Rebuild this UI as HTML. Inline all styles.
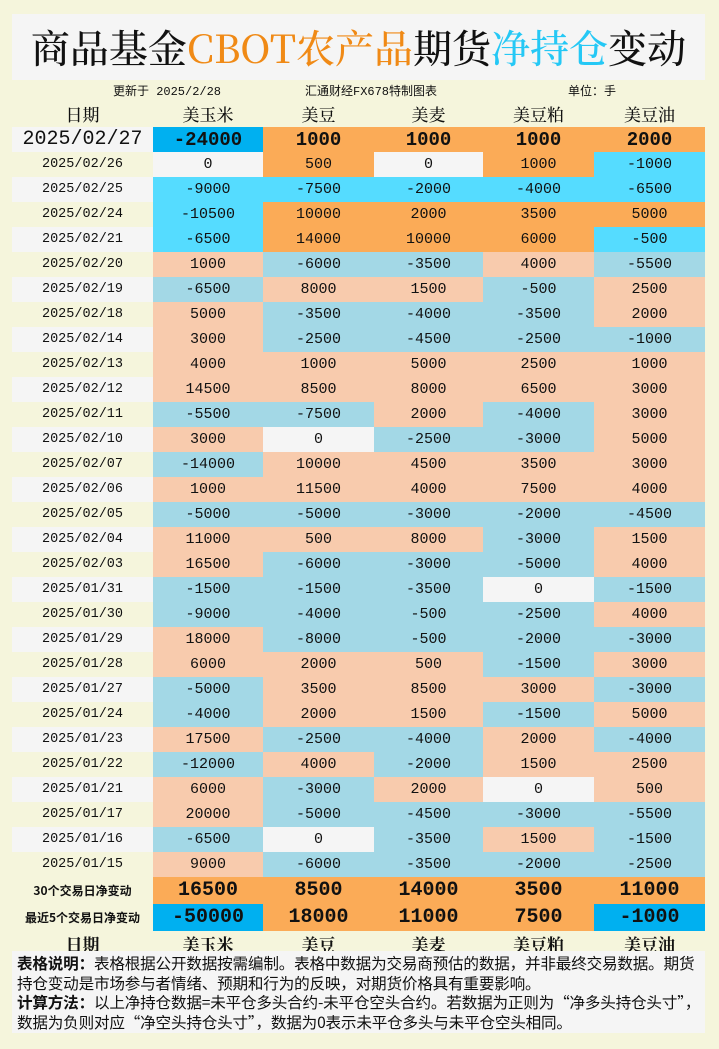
<!DOCTYPE html>
<html><head><meta charset="utf-8"><style>
body{margin:0;width:719px;height:1049px;background:#f5f5dc;position:relative;overflow:hidden;font-family:"Liberation Mono","Noto Sans CJK SC",monospace;}
.title{position:absolute;left:12px;top:14px;width:693px;height:66px;background:#f5f5f5;text-align:center;font:500 39px/66px "Noto Serif CJK SC","Liberation Serif",serif;color:#111;}
.o{color:#f08a16}.b{color:#25c8f5}
.sub{position:absolute;top:82px;font:12px "Liberation Mono","Noto Sans CJK SC",monospace;color:#111}
table{position:absolute;left:12px;top:100px;border-collapse:collapse;table-layout:fixed}
td{padding:0;text-align:center;height:25px;font:15px "Liberation Mono","Noto Sans CJK SC",monospace;color:#111}
td.d{font:13.5px "Liberation Mono",monospace}
tr.h td{height:27px;font:500 17px "Noto Serif CJK SC",serif;background:#f5f5dc}
tr.big td{height:25px;font:bold 19px "Liberation Mono",monospace}
tr.big td.w{font:20px "Liberation Mono",monospace}
tr.sum td{height:27px;font:bold 20px "Liberation Mono",monospace}
tr.sum td.d{font:bold 12px "Noto Sans CJK SC",sans-serif}
tr.ft td{height:20px;font:bold 17px "Noto Serif CJK SC",serif;background:#f5f5dc}
.w{background:#f5f5f5}.g{background:#f5f5dc}
.p{background:#f8cbad}.n{background:#a3d8e6}
.P{background:#fbab57}.N{background:#55dcff}.D{background:#00b0f0}
.note{position:absolute;left:12px;top:951px;height:82px;background:#f5f5f5;padding:3px 4px 0 5px;font:15.6px/19.5px "Noto Sans CJK SC",sans-serif;color:#111;box-sizing:border-box;width:693px;letter-spacing:-0.2px}
</style></head><body>
<div class="title">商品基金<span class="o">CBOT农产品</span>期货<span class="b">净持仓</span>变动</div>
<div class="sub" style="left:113px">更新于 2025/2/28</div>
<div class="sub" style="left:305px">汇通财经FX678特制图表</div>
<div class="sub" style="left:568px">单位：手</div>
<table>
<colgroup><col style="width:141px"><col style="width:110px"><col style="width:111px"><col style="width:109px"><col style="width:111px"><col style="width:111px"></colgroup>
<tr class="h"><td>日期</td><td>美玉米</td><td>美豆</td><td>美麦</td><td>美豆粕</td><td>美豆油</td></tr>
<tr class="big"><td class="w">2025/02/27</td><td class="D">-24000</td><td class="P">1000</td><td class="P">1000</td><td class="P">1000</td><td class="P">2000</td></tr>
<tr><td class="d g">2025/02/26</td><td class="w">0</td><td class="P">500</td><td class="w">0</td><td class="P">1000</td><td class="N">-1000</td></tr>
<tr><td class="d w">2025/02/25</td><td class="N">-9000</td><td class="N">-7500</td><td class="N">-2000</td><td class="N">-4000</td><td class="N">-6500</td></tr>
<tr><td class="d g">2025/02/24</td><td class="N">-10500</td><td class="P">10000</td><td class="P">2000</td><td class="P">3500</td><td class="P">5000</td></tr>
<tr><td class="d w">2025/02/21</td><td class="N">-6500</td><td class="P">14000</td><td class="P">10000</td><td class="P">6000</td><td class="N">-500</td></tr>
<tr><td class="d g">2025/02/20</td><td class="p">1000</td><td class="n">-6000</td><td class="n">-3500</td><td class="p">4000</td><td class="n">-5500</td></tr>
<tr><td class="d w">2025/02/19</td><td class="n">-6500</td><td class="p">8000</td><td class="p">1500</td><td class="n">-500</td><td class="p">2500</td></tr>
<tr><td class="d g">2025/02/18</td><td class="p">5000</td><td class="n">-3500</td><td class="n">-4000</td><td class="n">-3500</td><td class="p">2000</td></tr>
<tr><td class="d w">2025/02/14</td><td class="p">3000</td><td class="n">-2500</td><td class="n">-4500</td><td class="n">-2500</td><td class="n">-1000</td></tr>
<tr><td class="d g">2025/02/13</td><td class="p">4000</td><td class="p">1000</td><td class="p">5000</td><td class="p">2500</td><td class="p">1000</td></tr>
<tr><td class="d w">2025/02/12</td><td class="p">14500</td><td class="p">8500</td><td class="p">8000</td><td class="p">6500</td><td class="p">3000</td></tr>
<tr><td class="d g">2025/02/11</td><td class="n">-5500</td><td class="n">-7500</td><td class="p">2000</td><td class="n">-4000</td><td class="p">3000</td></tr>
<tr><td class="d w">2025/02/10</td><td class="p">3000</td><td class="w">0</td><td class="n">-2500</td><td class="n">-3000</td><td class="p">5000</td></tr>
<tr><td class="d g">2025/02/07</td><td class="n">-14000</td><td class="p">10000</td><td class="p">4500</td><td class="p">3500</td><td class="p">3000</td></tr>
<tr><td class="d w">2025/02/06</td><td class="p">1000</td><td class="p">11500</td><td class="p">4000</td><td class="p">7500</td><td class="p">4000</td></tr>
<tr><td class="d g">2025/02/05</td><td class="n">-5000</td><td class="n">-5000</td><td class="n">-3000</td><td class="n">-2000</td><td class="n">-4500</td></tr>
<tr><td class="d w">2025/02/04</td><td class="p">11000</td><td class="p">500</td><td class="p">8000</td><td class="n">-3000</td><td class="p">1500</td></tr>
<tr><td class="d g">2025/02/03</td><td class="p">16500</td><td class="n">-6000</td><td class="n">-3000</td><td class="n">-5000</td><td class="p">4000</td></tr>
<tr><td class="d w">2025/01/31</td><td class="n">-1500</td><td class="n">-1500</td><td class="n">-3500</td><td class="w">0</td><td class="n">-1500</td></tr>
<tr><td class="d g">2025/01/30</td><td class="n">-9000</td><td class="n">-4000</td><td class="n">-500</td><td class="n">-2500</td><td class="p">4000</td></tr>
<tr><td class="d w">2025/01/29</td><td class="p">18000</td><td class="n">-8000</td><td class="n">-500</td><td class="n">-2000</td><td class="n">-3000</td></tr>
<tr><td class="d g">2025/01/28</td><td class="p">6000</td><td class="p">2000</td><td class="p">500</td><td class="n">-1500</td><td class="p">3000</td></tr>
<tr><td class="d w">2025/01/27</td><td class="n">-5000</td><td class="p">3500</td><td class="p">8500</td><td class="p">3000</td><td class="n">-3000</td></tr>
<tr><td class="d g">2025/01/24</td><td class="n">-4000</td><td class="p">2000</td><td class="p">1500</td><td class="n">-1500</td><td class="p">5000</td></tr>
<tr><td class="d w">2025/01/23</td><td class="p">17500</td><td class="n">-2500</td><td class="n">-4000</td><td class="p">2000</td><td class="n">-4000</td></tr>
<tr><td class="d g">2025/01/22</td><td class="n">-12000</td><td class="p">4000</td><td class="n">-2000</td><td class="p">1500</td><td class="p">2500</td></tr>
<tr><td class="d w">2025/01/21</td><td class="p">6000</td><td class="n">-3000</td><td class="p">2000</td><td class="w">0</td><td class="p">500</td></tr>
<tr><td class="d g">2025/01/17</td><td class="p">20000</td><td class="n">-5000</td><td class="n">-4500</td><td class="n">-3000</td><td class="n">-5500</td></tr>
<tr><td class="d w">2025/01/16</td><td class="n">-6500</td><td class="w">0</td><td class="n">-3500</td><td class="p">1500</td><td class="n">-1500</td></tr>
<tr><td class="d g">2025/01/15</td><td class="p">9000</td><td class="n">-6000</td><td class="n">-3500</td><td class="n">-2000</td><td class="n">-2500</td></tr>
<tr class="sum"><td class="d g">30个交易日净变动</td><td class="P">16500</td><td class="P">8500</td><td class="P">14000</td><td class="P">3500</td><td class="P">11000</td></tr>
<tr class="sum"><td class="d g">最近5个交易日净变动</td><td class="D">-50000</td><td class="P">18000</td><td class="P">11000</td><td class="P">7500</td><td class="D">-1000</td></tr>
<tr class="ft"><td>日期</td><td>美玉米</td><td>美豆</td><td>美麦</td><td>美豆粕</td><td>美豆油</td></tr>
</table>
<div class="note"><b>表格说明：</b>表格根据公开数据按需编制。表格中数据为交易商预估的数据，并非最终交易数据。期货持仓变动是市场参与者情绪、预期和行为的反映，对期货价格具有重要影响。<br><b>计算方法：</b>以上净持仓数据=未平仓多头合约-未平仓空头合约。若数据为正则为“净多头持仓头寸”，<br>数据为负则对应“净空头持仓头寸”，数据为0表示未平仓多头与未平仓空头相同。</div>
</body></html>
